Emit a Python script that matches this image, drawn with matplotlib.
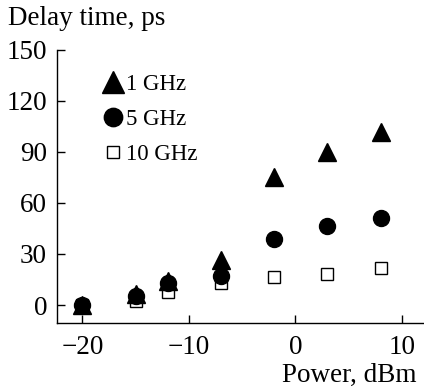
import matplotlib
matplotlib.use("Agg")
import matplotlib.pyplot as plt

power = [-20, -15, -12, -7, -2, 3, 8]
delay_1ghz = [0, 6.5, 14, 26.5, 75.5, 90, 102]
delay_5ghz = [0, 5.5, 12.7, 17.3, 38.6, 46.7, 51.4]
delay_10ghz = [0, 2.5, 7.8, 12.7, 16.7, 18.2, 21.6]
series_labels = ["1 GHz", "5 GHz", "10 GHz"]
xticks = [-20, -10, 0, 10]
yticks = [0, 30, 60, 90, 120, 150]

plt.rcParams['font.family'] = ['Liberation Serif', 'DejaVu Serif']
plt.rcParams['font.size'] = 19.5

fig = plt.figure(figsize=(4.24, 3.90), dpi=100)
ax = fig.add_axes([0.134, 0.1726, 0.864, 0.6994])

h1, = ax.plot(power, delay_1ghz, linestyle='none', marker='^', ms=13.5,
              color='black', label=series_labels[0], zorder=3)
h2, = ax.plot(power, delay_5ghz, linestyle='none', marker='o', ms=11.5,
              color='black', label=series_labels[1], zorder=4)
h3, = ax.plot(power, delay_10ghz, linestyle='none', marker='s', ms=8,
              markerfacecolor='white', markeredgecolor='black', mew=1.0,
              label=series_labels[2], zorder=2)

ax.set_xlim(-22.4, 12)
ax.set_ylim(-10.4, 150)
ax.set_xticks(xticks)
ax.set_yticks(yticks)
ax.set_xticklabels(['\u2212' + str(-t) if t < 0 else str(t) for t in xticks])
ax.spines['top'].set_visible(False)
ax.spines['right'].set_visible(False)
for s in ('left', 'bottom'):
    ax.spines[s].set_linewidth(1.0)
ax.tick_params(axis='both', direction='in', length=6, width=1.0)
ax.tick_params(axis='x', pad=9)
ax.tick_params(axis='y', pad=7)

leg = ax.legend(handles=[h1, h2, h3], loc='upper left',
                bbox_to_anchor=(0.11, 0.945), frameon=False,
                handlelength=0.6, handletextpad=0.25, labelspacing=0.6,
                borderaxespad=0, fontsize=16.5, markerscale=1.15)

fig.text(0.02, 0.985, "Delay time, ps", ha='left', va='top', fontsize=19.5)
fig.text(0.982, 0.005, "Power, dBm", ha='right', va='bottom', fontsize=19.5)

fig.savefig("out.png", dpi=100)
